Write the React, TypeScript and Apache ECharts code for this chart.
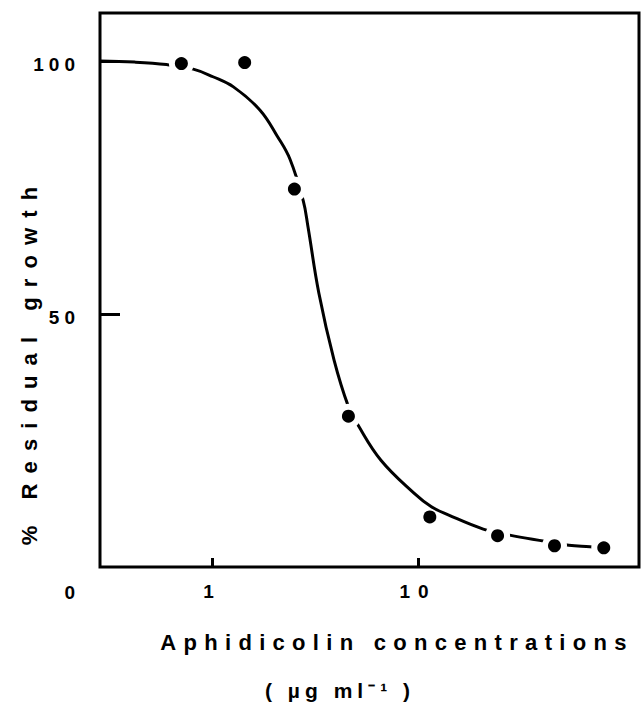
import React, { useEffect, useRef } from "react";
import * as echarts from "echarts";

// Measured points (aphidicolin concentration in µg/ml, % residual growth)
const dotConc = [0.71, 1.44, 2.51, 4.59, 11.4, 24.3, 45.9, 79.6];
const dotGrowth = [99.5, 99.7, 74.7, 29.8, 9.9, 6.2, 4.2, 3.8];

// Fitted curve
const curveConc = [
  0.286, 0.421, 0.601, 0.811, 1.01, 1.27, 1.71, 2.07, 2.39, 2.77, 2.92, 3.3,
  3.91, 4.59, 5.1, 6.6, 9.55, 11.6, 14.0, 20.7, 27.8, 41.2, 53.9, 68.2, 79.6,
];
const curveGrowth = [
  100.0, 99.8, 99.3, 98.4, 96.9, 94.9, 90.3, 85.2, 80.6, 72.4, 67.3, 54.1,
  40.9, 31.7, 28.1, 21.1, 14.6, 11.9, 10.3, 7.5, 6.3, 5.1, 4.3, 4.0, 3.75,
];

const xTickValues = [1, 10];
const yTickValues = [50, 100];
const yLabelValues = [0, 50, 100];

const xTitle = "Aphidicolin concentrations";
const unitTitle = "( µg ml⁻¹ )";
const yTitle = "% Residual growth";

const FONT = "'Liberation Sans', Arial, Helvetica, sans-serif";

const spacing: Record<string, number> = {
  "100": 5,
  "50": 5,
  "0": 5,
  "1": 7,
  "10": 8,
  [xTitle]: 7.3,
  [unitTitle]: 5,
  [yTitle]: 10.1,
};

export default function App() {
  const ref = useRef<HTMLDivElement>(null);

  useEffect(() => {
    if (!ref.current) return;
    const chart = echarts.init(ref.current, undefined, { renderer: "svg" });

    const applySpacing = () => {
      const el = ref.current;
      if (!el) return;
      el.querySelectorAll("text").forEach((t) => {
        const s = spacing[(t.textContent || "").trim()];
        if (s) (t as SVGTextElement).style.letterSpacing = s + "px";
      });
    };

    chart.setOption({
      animation: false,
      backgroundColor: "#fff",
      grid: {
        left: 100,
        top: 13,
        right: 2,
        bottom: 135,
        show: true,
        borderColor: "#000",
        borderWidth: 3,
        backgroundColor: "transparent",
      },
      xAxis: {
        type: "log",
        logBase: 10,
        min: 0.286,
        max: 118,
        axisLine: { show: false },
        splitLine: { show: false },
        axisTick: {
          show: true,
          inside: true,
          length: 9,
          customValues: xTickValues,
          lineStyle: { color: "#000", width: 3 },
        },
        axisLabel: {
          show: true,
          customValues: xTickValues,
          margin: 15,
          color: "#000",
          fontFamily: FONT,
          fontWeight: "bold",
          fontSize: 19,
          formatter: (v: number) => String(Math.round(v)),
        },
      },
      yAxis: {
        type: "value",
        min: 0,
        max: 109.5,
        axisLine: { show: false },
        splitLine: { show: false },
        axisTick: {
          show: true,
          inside: true,
          length: 20,
          customValues: yTickValues,
          lineStyle: { color: "#000", width: 3 },
        },
        axisLabel: {
          show: true,
          customValues: yLabelValues,
          margin: 20,
          color: "#000",
          fontFamily: FONT,
          fontWeight: "bold",
          fontSize: 19,
          padding: [7, 0, 0, 0],
          formatter: (v: number) => (v === 0 ? "{z|0}" : String(v)),
          rich: {
            z: {
              color: "#000",
              fontFamily: FONT,
              fontWeight: "bold",
              fontSize: 19,
              padding: [44, 0, 0, 0],
            },
          },
        },
      },
      graphic: [
        {
          type: "text",
          x: 397,
          y: 642,
          silent: true,
          style: {
            text: xTitle,
            fill: "#000",
            font: `bold 22px ${FONT}`,
            align: "center",
            verticalAlign: "middle",
          },
        },
        {
          type: "text",
          x: 340,
          y: 690,
          silent: true,
          style: {
            text: unitTitle,
            fill: "#000",
            font: `bold 21px ${FONT}`,
            align: "center",
            verticalAlign: "middle",
          },
        },
        {
          type: "text",
          x: 29,
          y: 361,
          rotation: Math.PI / 2,
          silent: true,
          style: {
            text: yTitle,
            fill: "#000",
            font: `bold 22px ${FONT}`,
            align: "center",
            verticalAlign: "middle",
          },
        },
      ],
      series: [
        {
          type: "line",
          data: curveConc.map((c, i) => [c, curveGrowth[i]]),
          showSymbol: false,
          symbol: "none",
          smooth: 0.4,
          silent: true,
          z: 2,
          lineStyle: { color: "#000", width: 3, opacity: 1 },
        },
        {
          type: "scatter",
          data: dotConc.map((c, i) => [c, dotGrowth[i]]),
          symbol: "circle",
          symbolSize: (_v: any, p: any) => (p.dataIndex === 4 ? 0 : 25),
          silent: true,
          z: 3,
          itemStyle: { color: "#fff", borderWidth: 0, opacity: 1 },
        },
        {
          type: "scatter",
          data: dotConc.map((c, i) => [c, dotGrowth[i]]),
          symbol: "circle",
          symbolSize: 13,
          silent: true,
          z: 4,
          itemStyle: { color: "#000", borderWidth: 0, opacity: 1 },
        },
      ],
    });

    applySpacing();
    chart.on("finished", applySpacing);
    const t = setTimeout(applySpacing, 50);

    return () => {
      clearTimeout(t);
      chart.dispose();
    };
  }, []);

  return (
    <div
      ref={ref}
      style={{ position: "fixed", left: 0, top: 0, width: 641, height: 702, background: "#fff" }}
    />
  );
}
